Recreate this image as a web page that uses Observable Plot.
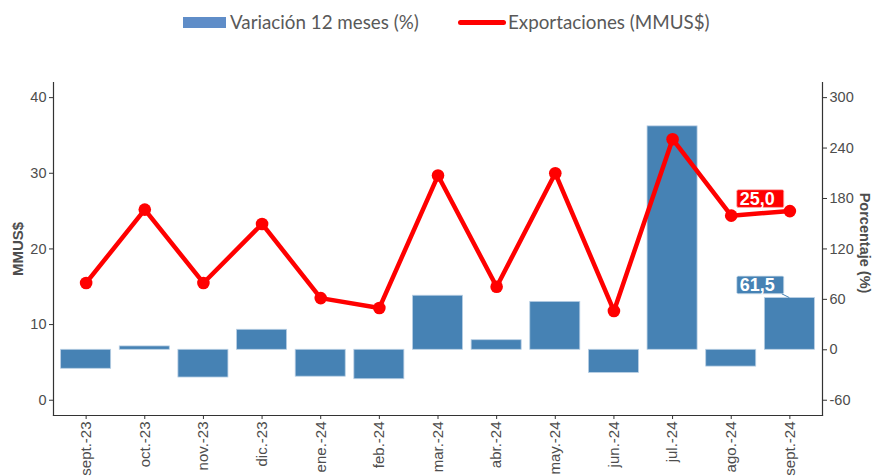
<!DOCTYPE html>
<html>
<head>
<meta charset="utf-8">
<script src="https://cdn.jsdelivr.net/npm/d3@7"></script>
<script src="https://cdn.jsdelivr.net/npm/@observablehq/plot@0.6"></script>
<style>
  html, body { margin: 0; padding: 0; background: #fff; }
  #legend { position: relative; width: 872px; height: 45px; font-family: Lato, "Open Sans", sans-serif; color: #595959; font-size: 18.8px; }
  #legend .sw { position: absolute; }
  #legend .lb { position: absolute; top: 10px; line-height: 24px; white-space: nowrap; }
  #chart svg, #chart svg text { font-family: "Liberation Sans", Arial, sans-serif !important; }
</style>
</head>
<body>
<div id="legend">
  <div class="sw" style="left:183px; top:17px; width:43px; height:11px; background:#5f8dc8;"></div>
  <div class="lb" style="left:230px;">Variación 12 meses (%)</div>
  <div class="sw" style="left:458px; top:19.5px; width:48px; height:5px; background:#ff0000; border-radius:3px;"></div>
  <div class="lb" style="left:508px;">Exportaciones (MMUS$)</div>
</div>
<div id="chart"></div>
<script>
const months = ["sept.-23","oct.-23","nov.-23","dic.-23","ene.-24","feb.-24","mar.-24","abr.-24","may.-24","jun.-24","jul.-24","ago.-24","sept.-24"];
const exportsMM = [15.5, 25.2, 15.5, 23.3, 13.5, 12.2, 29.7, 15.0, 30.0, 11.8, 34.5, 24.4, 25.0];
const variation = [-22.6, 4.0, -33.0, 23.8, -32.0, -35.0, 64.3, 11.4, 57.0, -27.5, 265.8, -20.0, 61.5];
const leftTicks = [0, 10, 20, 30, 40];
const rightTicks = [-60, 0, 60, 120, 180, 240, 300];

// secondary axis transform: percent -> MMUS$ units
const toLeft = p => (p + 60) / 9;
const toRight = v => v * 9 - 60;

const rows = months.map((m, i) => ({month: m, exp: exportsMM[i], varp: variation[i]}));
const last = rows[rows.length - 1];

const chart = Plot.plot({
  width: 872,
  height: 431,
  marginLeft: 53,
  marginRight: 50,
  marginTop: 37,
  marginBottom: 61,
  style: {fontFamily: "Liberation Sans, Arial, sans-serif", fontSize: "14.5px", color: "#4d4d4d", background: "#fff"},
  x: {type: "band", domain: months, paddingInner: 0.147, paddingOuter: 0.13, round: false, axis: null},
  y: {domain: [-2.02, 42.0], axis: null},
  marks: [
    Plot.barY(rows, {x: "month", y1: () => toLeft(0), y2: d => toLeft(d.varp), fill: "#4682B4", stroke: "#b9cfe4", strokeWidth: 0.8}),
    Plot.line(rows, {x: "month", y: "exp", stroke: "#FF0000", strokeWidth: 4.5, strokeLinejoin: "round"}),
    Plot.dot(rows, {x: "month", y: "exp", r: 6.3, fill: "#FF0000"}),
    Plot.frame({anchor: "left", stroke: "#333", strokeWidth: 1.2}),
    Plot.frame({anchor: "right", stroke: "#333", strokeWidth: 1.2}),
    Plot.frame({anchor: "bottom", stroke: "#333", strokeWidth: 1.2}),
    Plot.axisY({anchor: "left", ticks: leftTicks, tickSize: 4, tickPadding: 3, label: null, stroke: "#333", fill: "#4d4d4d", fontSize: 14.5}),
    Plot.axisY({anchor: "right", ticks: rightTicks.map(toLeft), tickFormat: d => String(Math.round(toRight(d))), tickSize: 4, tickPadding: 3, label: null, stroke: "#333", fill: "#4d4d4d", fontSize: 14.5}),
    Plot.axisX({tickRotate: -90, tickSize: 4, tickPadding: 2, label: null, stroke: "#333", fill: "#4d4d4d", fontSize: 15}),
    Plot.text(["MMUS$"], {frameAnchor: "left", dx: -35, rotate: -90, textAnchor: "middle", fontWeight: "bold", fontSize: 15, fill: "#4d4d4d"}),
    Plot.text(["Porcentaje (%)"], {frameAnchor: "right", dx: 42, dy: -6, rotate: 90, textAnchor: "middle", fontWeight: "bold", fontSize: 14.5, fill: "#4d4d4d"}),
    Plot.text([last], {x: "month", y: "exp", text: d => d.exp.toFixed(1).replace(".", ","), dx: -32.6, dy: -11.8, textAnchor: "middle", fill: "white", fontWeight: "bold", fontSize: 18, className: "lab-red"}),
    Plot.text([last], {x: "month", y: d => toLeft(d.varp), text: d => d.varp.toFixed(1).replace(".", ","), dx: -32.6, dy: -12.4, textAnchor: "middle", fill: "white", fontWeight: "bold", fontSize: 18, className: "lab-blue"})
  ]
});
document.getElementById("chart").appendChild(chart);

function parseT(el) {
  const tr = el && el.getAttribute("transform");
  if (tr) { const m = tr.match(/translate\(([-\d.e]+)[,\s]+([-\d.e]+)\)/); if (m) return [+m[1], +m[2]]; }
  return [0, 0];
}
// label boxes behind the value labels
function boxify(cls, fill, stroke) {
  const g = chart.querySelector("g." + cls) || chart.querySelector("." + cls);
  if (!g) return null;
  const t = g.querySelector("text");
  const b = t.getBBox();
  const [tx, ty] = parseT(t);
  const [gx, gy] = parseT(g);
  const padL = 3, padR = 9, h = 17.7;
  const cy = b.y + b.height / 2 + ty;
  const x0 = b.x + tx - padL, y0 = cy - h / 2 - 0.5;
  const r = document.createElementNS("http://www.w3.org/2000/svg", "rect");
  r.setAttribute("x", x0);
  r.setAttribute("y", y0);
  r.setAttribute("width", b.width + padL + padR);
  r.setAttribute("height", h);
  r.setAttribute("rx", 1.5);
  r.setAttribute("fill", fill);
  if (stroke) { r.setAttribute("stroke", stroke); r.setAttribute("stroke-width", 0.8); }
  g.insertBefore(r, g.firstChild);
  return {x: x0 + gx, y: y0 + gy, w: b.width + padL + padR, h};
}
boxify("lab-red", "#FF0000", "#ffb3b3");
const bb = boxify("lab-blue", "#4682B4", "#d0dfee");
if (bb) {
  const xs = chart.scale("x"), ys = chart.scale("y");
  const cx = xs.apply(last.month) + xs.bandwidth / 2;
  const cy = ys.apply(toLeft(last.varp));
  const ln = document.createElementNS("http://www.w3.org/2000/svg", "line");
  ln.setAttribute("x1", bb.x + bb.w - 2); ln.setAttribute("y1", bb.y + bb.h);
  ln.setAttribute("x2", cx); ln.setAttribute("y2", cy);
  ln.setAttribute("stroke", "#4682B4"); ln.setAttribute("stroke-width", 1);
  chart.appendChild(ln);
}
</script>
</body>
</html>
